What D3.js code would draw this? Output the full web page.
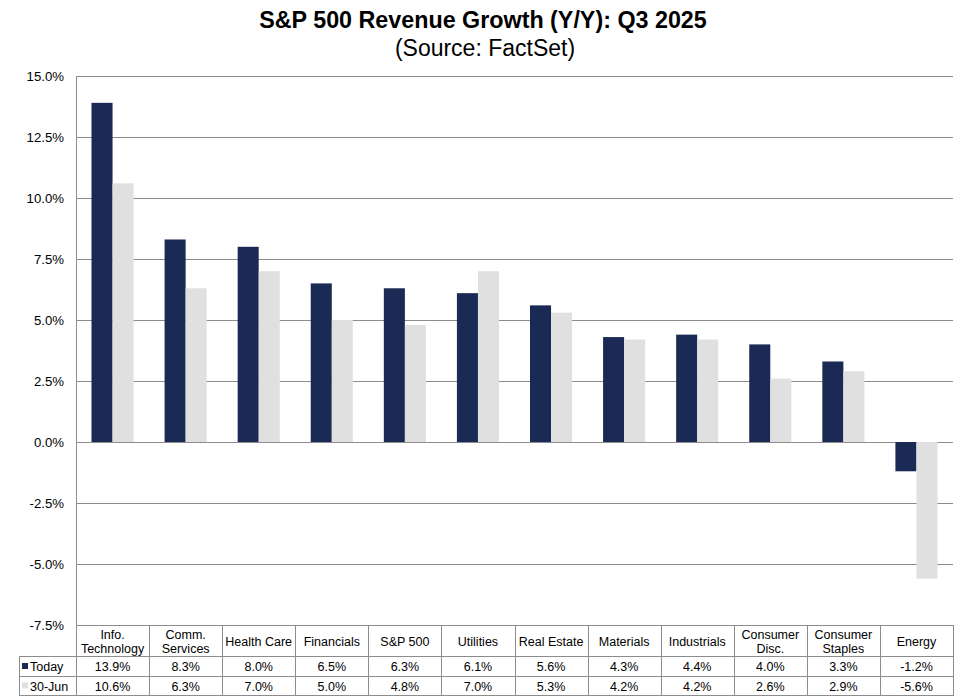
<!DOCTYPE html>
<html>
<head>
<meta charset="utf-8">
<script src="https://cdn.jsdelivr.net/npm/d3@7"></script>
<style>
  html, body { margin: 0; padding: 0; background: #fff; }
  svg { display: block; font-family: Arial, "Liberation Sans", sans-serif; }
</style>
</head>
<body>
<svg id="chart" width="965" height="700"></svg>
<script>
const categories = [
  ["Info.", "Technology"], ["Comm.", "Services"], ["Health Care"], ["Financials"],
  ["S&P 500"], ["Utilities"], ["Real Estate"], ["Materials"], ["Industrials"],
  ["Consumer", "Disc."], ["Consumer", "Staples"], ["Energy"]
];
const seriesNames = ["Today", "30-Jun"];
const todayValues = [13.9, 8.3, 8.0, 6.5, 6.3, 6.1, 5.6, 4.3, 4.4, 4.0, 3.3, -1.2];
const juneValues  = [10.6, 6.3, 7.0, 5.0, 4.8, 7.0, 5.3, 4.2, 4.2, 2.6, 2.9, -5.6];
const tickValues = [15, 12.5, 10, 7.5, 5, 2.5, 0, -2.5, -5, -7.5];
const colors = ["#1b2a55", "#e0e0e0"];

const svg = d3.select("#chart");
const plotLeft = 76, plotRight = 953, plotTop = 76, plotBottom = 625;
const gridColor = "#8c8c8c";
const locale = d3.formatLocale({ decimal: ".", thousands: ",", grouping: [3], currency: ["$", ""], minus: "-" });
const pct = v => locale.format(".1f")(v) + "%";

const catKeys = categories.map(c => c.join(" "));
const x0 = d3.scaleBand().domain(catKeys).range([plotLeft, plotRight]).padding(0);
const bw = x0.bandwidth();
const x1 = d3.scaleBand().domain(seriesNames).range([bw * 0.212, bw * 0.788]).padding(0);
const y = d3.scaleLinear().domain([-7.5, 15]).range([plotBottom, plotTop]);

// Title
svg.append("text").attr("x", 483).attr("y", 28).attr("text-anchor", "middle")
  .attr("font-size", 23.3).attr("font-weight", "bold").attr("fill", "#000")
  .text("S&P 500 Revenue Growth (Y/Y): Q3 2025");
svg.append("text").attr("x", 485).attr("y", 55.5).attr("text-anchor", "middle")
  .attr("font-size", 23).attr("fill", "#000")
  .text("(Source: FactSet)");

// Gridlines
svg.append("g").selectAll("line").data(tickValues).join("line")
  .attr("x1", plotLeft).attr("x2", plotRight)
  .attr("y1", d => Math.round(y(d)) + 0.5).attr("y2", d => Math.round(y(d)) + 0.5)
  .attr("stroke", gridColor).attr("stroke-width", 1);

// Y axis labels
svg.append("g").selectAll("text").data(tickValues).join("text")
  .attr("x", 64).attr("y", d => y(d)).attr("dy", "0.35em")
  .attr("text-anchor", "end").attr("font-size", 13.2).attr("fill", "#000")
  .text(d => pct(d));

// Bars
const data = catKeys.map((k, i) => ({ key: k, vals: [todayValues[i], juneValues[i]] }));
const groups = svg.append("g").selectAll("g").data(data).join("g")
  .attr("transform", d => `translate(${x0(d.key)},0)`);
groups.selectAll("rect").data(d => d.vals.map((v, j) => ({ s: seriesNames[j], v, j })))
  .join("rect")
  .attr("x", d => x1(d.s)).attr("width", x1.bandwidth())
  .attr("y", d => Math.min(y(d.v), y(0)))
  .attr("height", d => Math.abs(y(d.v) - y(0)))
  .attr("fill", d => colors[d.j]);

// Axis line
svg.append("line").attr("x1", plotLeft + 0.5).attr("x2", plotLeft + 0.5)
  .attr("y1", plotTop).attr("y2", plotBottom).attr("stroke", gridColor);

// Data table
const hdrBottom = 656, row1Bottom = 676, row2Bottom = 695, tableLeft = 19;
const tbl = svg.append("g");
const bounds = catKeys.map(k => x0(k)).concat([plotRight]);
tbl.selectAll("line.v").data(bounds).join("line")
  .attr("x1", d => Math.round(d) + 0.5).attr("x2", d => Math.round(d) + 0.5)
  .attr("y1", plotBottom).attr("y2", row2Bottom + 0.5).attr("stroke", gridColor);
[hdrBottom, row1Bottom, row2Bottom].forEach(yy => {
  tbl.append("line").attr("x1", tableLeft).attr("x2", plotRight + 1)
    .attr("y1", yy + 0.5).attr("y2", yy + 0.5).attr("stroke", gridColor);
});
tbl.append("line").attr("x1", tableLeft + 0.5).attr("x2", tableLeft + 0.5)
  .attr("y1", hdrBottom).attr("y2", row2Bottom + 0.5).attr("stroke", gridColor);

const fs = 12.5;
categories.forEach((lines, i) => {
  const cx = x0(catKeys[i]) + bw / 2;
  const t = tbl.append("text").attr("text-anchor", "middle").attr("font-size", fs).attr("fill", "#000");
  if (lines.length === 1) {
    t.append("tspan").attr("x", cx).attr("y", 645.5).text(lines[0]);
  } else {
    t.append("tspan").attr("x", cx).attr("y", 638.5).text(lines[0]);
    t.append("tspan").attr("x", cx).attr("y", 652.5).text(lines[1]);
  }
});
const rows = [todayValues, juneValues];
const rowY = [671, 690.5];
rows.forEach((vals, r) => {
  tbl.append("rect").attr("x", 22).attr("y", rowY[r] - 8).attr("width", 6).attr("height", 6).attr("fill", colors[r]);
  tbl.append("text").attr("x", 30).attr("y", rowY[r]).attr("font-size", fs).attr("fill", "#000").text(seriesNames[r]);
  vals.forEach((v, i) => {
    tbl.append("text").attr("x", x0(catKeys[i]) + bw / 2).attr("y", rowY[r])
      .attr("text-anchor", "middle").attr("font-size", fs).attr("fill", "#000")
      .text(pct(v));
  });
});
</script>
</body>
</html>
